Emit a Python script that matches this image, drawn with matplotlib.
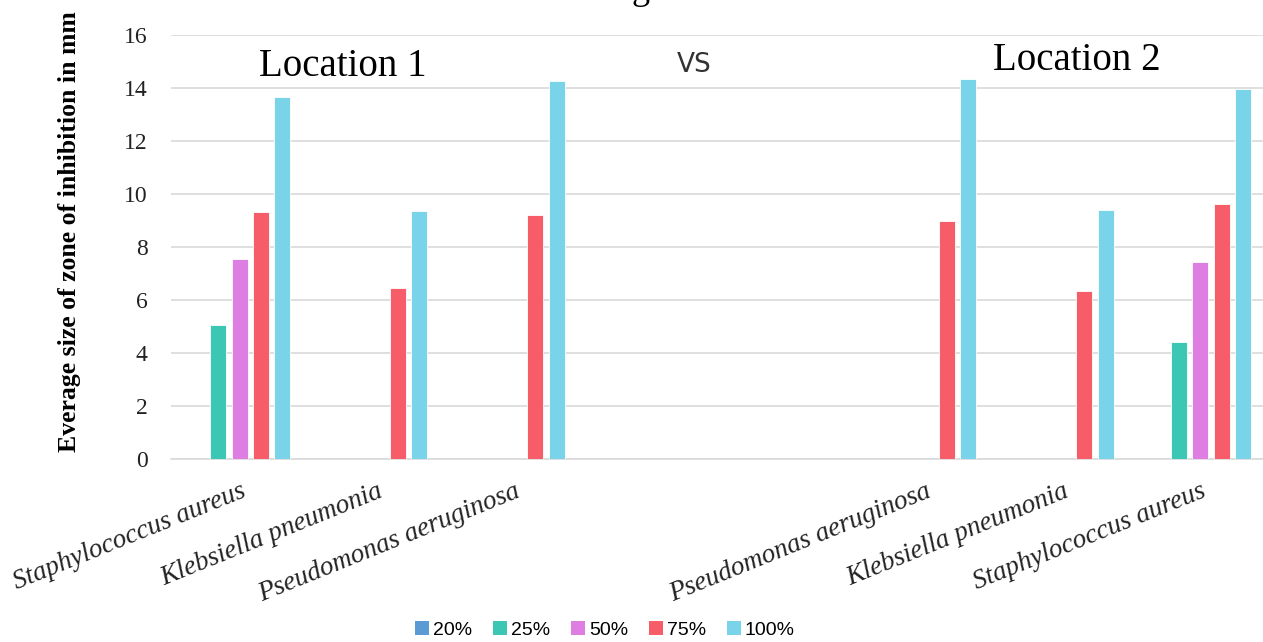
import numpy as np
import matplotlib
matplotlib.use("Agg")
import matplotlib.pyplot as plt
from matplotlib.patches import Patch

categories = ["Staphylococcus aureus", "Klebsiella pneumonia", "Pseudomonas aeruginosa", "", "",
              "Pseudomonas aeruginosa", "Klebsiella pneumonia", "Staphylococcus aureus"]
series_names = ["20%", "25%", "50%", "75%", "100%"]
s20 = [0, 0, 0, 0, 0, 0, 0, 0]
s25 = [5.05, 0, 0, 0, 0, 0, 0, 4.42]
s50 = [7.53, 0, 0, 0, 0, 0, 0, 7.43]
s75 = [9.31, 6.44, 9.20, 0, 0, 8.99, 6.35, 9.61]
s100 = [13.67, 9.35, 14.28, 0, 0, 14.34, 9.40, 13.97]
series = [s20, s25, s50, s75, s100]
colors = ["#5B9BD5", "#3CC7B5", "#DE7EE3", "#F75D68", "#79D4EA"]

W, H = 1263, 642
fig = plt.figure(figsize=(W / 100, H / 100), dpi=100)
ax = fig.add_axes([171 / W, 1 - 459 / H, (1269 - 171) / W, (459 - 35) / H])

x = np.arange(len(categories))
step, bw = 0.155, 0.117
for i, (vals, c) in enumerate(zip(series, colors)):
    v = np.array(vals, dtype=float)
    v = np.where(v > 0, v, np.nan)
    ax.bar(x + (i - 2) * step, v, width=bw, color=c, edgecolor="white", linewidth=0.6, zorder=3)

ax.set_xlim(-0.5, len(categories) - 0.5)
ax.set_ylim(0, 16)
ax.set_yticks(np.arange(0, 17, 2))
ax.yaxis.grid(True, color="#D9D9D9", linewidth=1.2, zorder=0)
ax.set_axisbelow(True)
for s in ["top", "right", "left"]:
    ax.spines[s].set_visible(False)
ax.spines["bottom"].set_color("#D9D9D9")
ax.spines["bottom"].set_linewidth(1.2)
ax.tick_params(axis="both", length=0)
ax.tick_params(axis="y", pad=17)
for lab in ax.get_yticklabels():
    lab.set_fontfamily("Liberation Serif")
    lab.set_fontsize(17)
    lab.set_color("#222222")

ax.set_xticks(x)
ax.set_xticklabels(categories, rotation=22, ha="right", rotation_mode="anchor",
                   fontfamily="Liberation Serif", fontstyle="italic", fontsize=19.5, color="#222222")
ax.tick_params(axis="x", pad=14)

fig.text(70 / W, 1 - 232 / H, "Everage size of zone of inhibition in mm", rotation=90,
         ha="center", va="center", fontfamily="Liberation Serif", fontweight="bold", fontsize=18.5)

fig.text(343 / W, 1 - 66 / H, "Location 1", ha="center", va="center",
         fontfamily="Liberation Serif", fontsize=28)
fig.text(1077 / W, 1 - 60 / H, "Location 2", ha="center", va="center",
         fontfamily="Liberation Serif", fontsize=28)
fig.text(694 / W, 1 - 65 / H, "VS", ha="center", va="center",
         fontfamily="DejaVu Sans", fontsize=19, color="#333333")
fig.text(641 / W, 1 + 10 / H, "g", ha="center", va="center",
         fontfamily="Liberation Serif", fontsize=26)

handles = [Patch(facecolor=c, label=n) for c, n in zip(colors, series_names)]
fig.legend(handles=handles, loc="center", bbox_to_anchor=(605 / W, 1 - 630 / H), ncol=5,
           frameon=False, prop={"family": "Liberation Sans", "size": 14},
           handlelength=0.7, handleheight=0.7, handletextpad=0.2, columnspacing=1.1)

fig.savefig("out.png", dpi=100)
